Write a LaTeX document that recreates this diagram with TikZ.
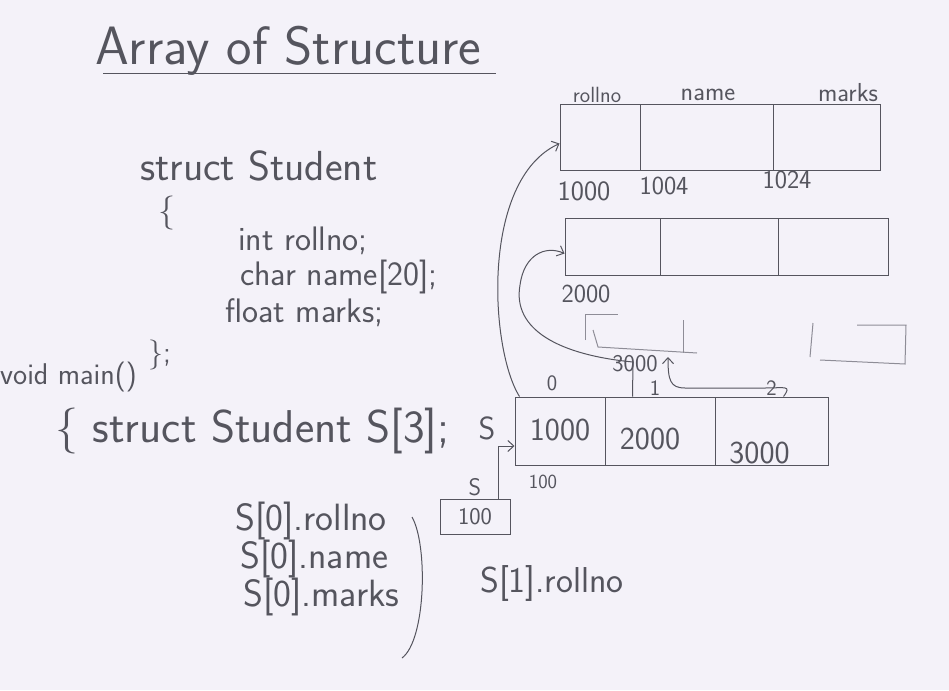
\documentclass[tikz,border=0pt]{standalone}
\usepackage{fontspec}
\usetikzlibrary{arrows.meta,positioning}

\definecolor{board}{HTML}{F4F2F9}
\definecolor{pen}{HTML}{55555E}
\definecolor{faint}{HTML}{8E8D97}

\begin{document}
\begin{tikzpicture}[
        x=1pt, y=-1pt,
        every node/.style={text=pen, font=\sffamily, inner sep=0pt},
        hand/.style={font=\sffamily\fontsize{#1}{#1}\selectfont},
        cell/.style 2 args={draw=pen, line width=1pt, minimum width=#1, minimum height=#2},
        line/.style={draw=pen, line width=1pt},
        ptr/.style={draw=pen, line width=1pt, -{Straight Barb[length=6pt,width=11pt]}}
    ]
    \fill[board] (0,0) rectangle (949,690);

    % title
    \node[hand=54, anchor=base west] (title) at (95,65) {Array of Structure};
    \draw[line] ([yshift=-9pt,xshift=8pt]title.base west) -- ([yshift=-9pt,xshift=14pt]title.base east);

    % structure declaration
    \node[hand=42, anchor=base west] (decl) at (140,180) {struct Student};
    \node[hand=34] (open) at (167,213) {\{};
    \node[hand=34, anchor=base west] (fld1) at (238,250) {int rollno;};
    \node[hand=34, anchor=base west] (fld2) at (240,285) {char name[20];};
    \node[hand=34, anchor=base west] (fld3) at (225,322) {float marks;};
    \node[hand=30, anchor=base west] (close) at (148,362) {\};};
    \node[hand=30, anchor=base west] (mainfn) at (0,384) {void main()};
    \node[hand=46, anchor=base west] (arrdecl) at (55,442) {\{ struct Student S[3];};
    \node[hand=32] (sname) at (487,428) {S};

    % array of addresses
    \node[cell={90pt}{68pt}] (a0) at (560,431) {};
    \node[cell={110pt}{68pt}] (a1) at (660,431) {};
    \node[cell={113pt}{68pt}] (a2) at (771.5,431) {};
    \node[hand=32] (v0) at ([yshift=1pt]a0) {1000};
    \node[hand=32] (v1) at ([yshift=-8pt,xshift=-10pt]a1) {2000};
    \node[hand=32] (v2) at ([yshift=-22pt,xshift=-12pt]a2) {3000};
    \node[hand=22, above=5pt of a0, xshift=-8pt] (idx0) {0};
    \node[hand=22, above=1pt of a1, xshift=-5pt] (idx1) {1};
    \node[hand=22, above=1pt of a2] (idx2) {2};
    \node[hand=20] (abase) at (543,482) {100};

    % pointer S
    \node[cell={70pt}{35pt}, hand=24] (sbox) at (475,517) {100};
    \node[hand=24, above=3pt of sbox] (slbl) {S};
    \draw[ptr] ([xshift=-12pt]sbox.north east) |- ([yshift=-15pt]a0.west);

    % first structure
    \node[cell={80pt}{65pt}] (r1a) at (600,137.5) {};
    \node[cell={133pt}{65pt}] (r1b) at (706.5,137.5) {};
    \node[cell={107pt}{65pt}] (r1c) at (826.5,137.5) {};
    \node[hand=22] (m1) at (597,95) {rollno};
    \node[hand=26] (m2) at (708,95) {name};
    \node[hand=26] (m3) at (848,93) {marks};
    \node[hand=28] (ad1) at (584,191) {1000};
    \node[hand=26] (ad2) at (664,186) {1004};
    \node[hand=26] (ad3) at (787,180) {1024};

    % second structure
    \node[cell={95pt}{57pt}] (r2a) at (612.5,246.5) {};
    \node[cell={118pt}{57pt}] (r2b) at (719,246.5) {};
    \node[cell={110pt}{57pt}] (r2c) at (833,246.5) {};
    \node[hand=26] (ad4) at (586,294) {2000};

    % third structure, half rubbed out
    \draw[draw=faint, line width=1pt] (585,340) -- (585,314) -- (618,314);
    \draw[draw=faint, line width=1pt] (593,330) -- (598,347) -- (697,353);
    \draw[draw=faint, line width=1pt] (683,320) -- (683,353);
    \draw[draw=faint, line width=1pt] (813,323) -- (810,357);
    \draw[draw=faint, line width=1pt] (820,360) -- (905,364) -- (906,325) -- (857,325);
    \node[hand=24] (ad5) at (635,364) {3000};
    \coordinate (r3in) at (668,357);

    % links
    \draw[ptr] ([xshift=5pt]a0.north west) .. controls (490,350) and (480,180) .. ([yshift=-6pt]r1a.west);
    \draw[ptr] ([xshift=28pt]a1.north west) -- (633,362) .. controls (560,355) and (512,330) .. (520,285)
        .. controls (524,255) and (545,245) .. ([yshift=-7pt]r2a.west);
    \draw[ptr] ([xshift=-45pt]a2.north east) .. controls (792,385) and (785,388) .. (765,388) -- (685,388)
        .. controls (670,388) and (668,380) .. (r3in);

    % member access
    \node[hand=38, anchor=base west] (acc1) at (235,530) {S[0].rollno};
    \node[hand=38, anchor=base west] (acc2) at (240,568) {S[0].name};
    \node[hand=38, anchor=base west] (acc3) at (243,606) {S[0].marks};
    \draw[line] (412,517) .. controls (428,545) and (426,640) .. (402,658);
    \node[hand=36, anchor=base west] (acc4) at (480,592) {S[1].rollno};
\end{tikzpicture}
\end{document}
